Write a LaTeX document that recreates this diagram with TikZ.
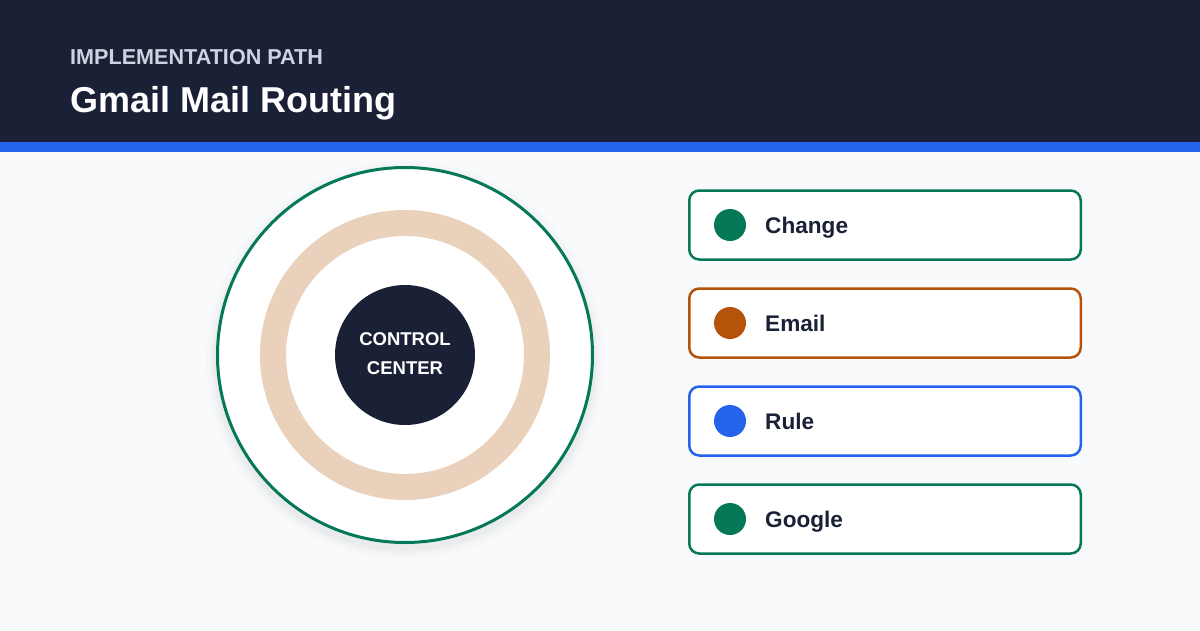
\documentclass[tikz,border=0pt]{standalone}
\usepackage{fontspec}
\setmainfont{Liberation Sans}
\definecolor{navy}{HTML}{1A2036}
\definecolor{stripe}{HTML}{2563EB}
\definecolor{pagebg}{HTML}{F8FAFC}
\definecolor{subtle}{HTML}{CBD5E1}
\definecolor{cgreen}{HTML}{047857}
\definecolor{corange}{HTML}{B45309}
\definecolor{cblue}{HTML}{2563EB}
\definecolor{ring}{HTML}{EAD1BC}
\tikzset{
  itembox/.style={draw=#1, line width=2.5pt, rounded corners=10pt, fill=white,
    minimum width=391.5pt, minimum height=69pt, inner sep=0pt},
  itemdot/.style={circle, fill=#1, minimum size=32pt, inner sep=0pt},
  itemtext/.style={anchor=base west, text=navy, font=\fontsize{22.6}{26}\selectfont\bfseries, inner sep=0pt},
}
\begin{document}
\begin{tikzpicture}[x=1pt,y=-1pt]
\useasboundingbox (0,0) rectangle (1200,630);
% background
\fill[pagebg] (0,0) rectangle (1200,630);
\fill[navy] (0,0) rectangle (1200,142);
\fill[stripe] (0,142) rectangle (1200,152);
\node[anchor=base west, inner sep=0pt, text=subtle, font=\fontsize{21.6}{24}\selectfont\bfseries] (kicker) at (70,64) {IMPLEMENTATION PATH};
\node[anchor=base west, inner sep=0pt, text=white, font=\fontsize{36}{40}\selectfont\bfseries] (title) at (70,112) {Gmail Mail Routing};
% shadow of the big circle
\foreach \r/\o in {199/0.01,196/0.013,193/0.016,191/0.02}{
  \fill[black, opacity=\o] (405,360) circle (\r);
}
\node[circle, draw=cgreen, line width=3pt, fill=white, minimum size=375pt, inner sep=0pt] (outer) at (405,355) {};
\draw[ring, line width=26pt] (405,355) circle (132);
\node[circle, fill=navy, minimum size=140pt, inner sep=0pt] (core) at (405,355) {};
\node[anchor=base, inner sep=0pt, text=white, font=\fontsize{18.5}{22}\selectfont\bfseries] (c1) at (405,345) {CONTROL};
\node[anchor=base, inner sep=0pt, text=white, font=\fontsize{18.5}{22}\selectfont\bfseries] (c2) at (405,374) {CENTER};
% items
\foreach \n/\y/\c/\t in {1/225/cgreen/Change, 2/323/corange/Email, 3/421/cblue/Rule, 4/519/cgreen/Google}{
  \node[itembox=\c] (box\n) at (885,\y) {};
  \node[itemdot=\c] (dot\n) at (730,\y) {};
  \node[itemtext] (lab\n) at (765,\y+8) {\t};
}
\end{tikzpicture}
\end{document}
